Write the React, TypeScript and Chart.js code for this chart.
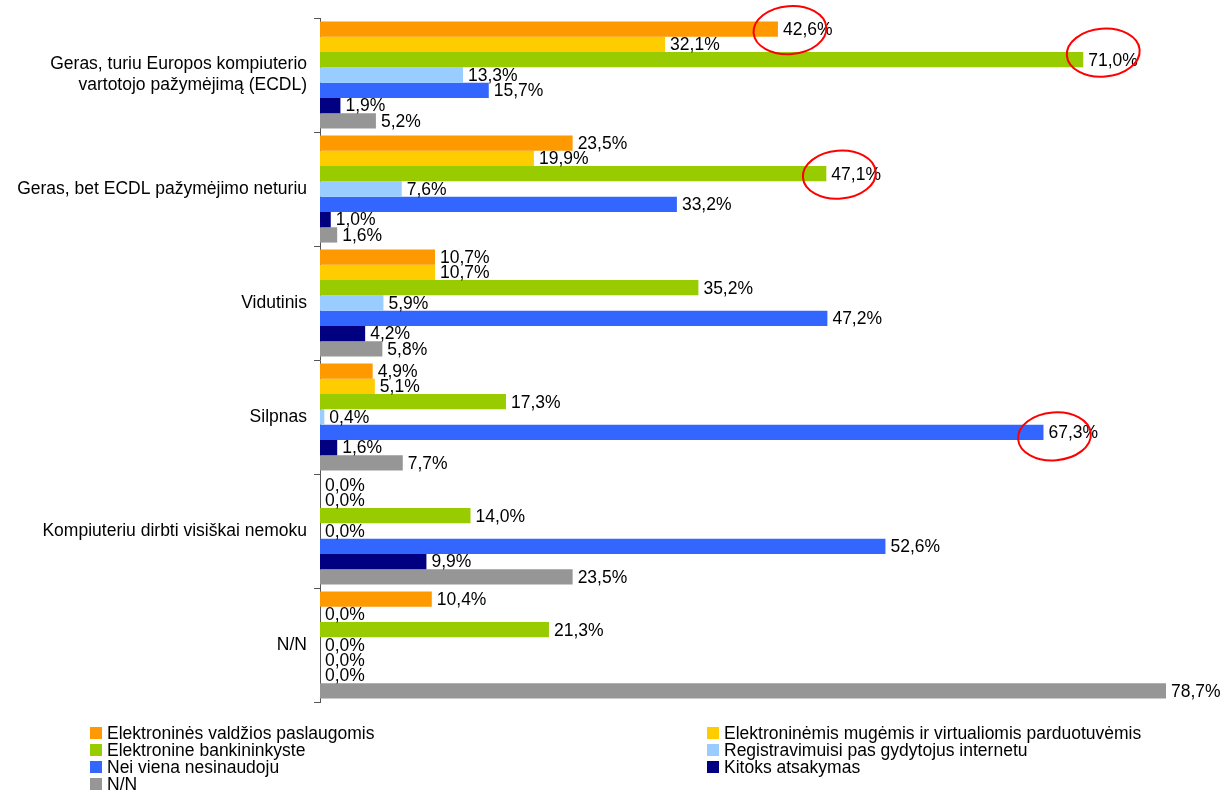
import React, { useEffect, useRef } from "react";
import { Chart, registerables } from "chart.js";

Chart.register(...registerables);

const categories: (string | string[])[] = [
  ["Geras, turiu Europos kompiuterio", "vartotojo pažymėjimą (ECDL)"],
  "Geras, bet ECDL pažymėjimo neturiu",
  "Vidutinis",
  "Silpnas",
  "Kompiuteriu dirbti visiškai nemoku",
  "N/N",
];

const seriesNames = [
  "Elektroninės valdžios paslaugomis",
  "Elektroninėmis mugėmis ir virtualiomis parduotuvėmis",
  "Elektronine bankininkyste",
  "Registravimuisi pas gydytojus internetu",
  "Nei viena nesinaudoju",
  "Kitoks atsakymas",
  "N/N",
];

const valdzios = [42.6, 23.5, 10.7, 4.9, 0.0, 10.4];
const muges = [32.1, 19.9, 10.7, 5.1, 0.0, 0.0];
const bankininkyste = [71.0, 47.1, 35.2, 17.3, 14.0, 21.3];
const gydytojai = [13.3, 7.6, 5.9, 0.4, 0.0, 0.0];
const neiViena = [15.7, 33.2, 47.2, 67.3, 52.6, 0.0];
const kitoks = [1.9, 1.0, 4.2, 1.6, 9.9, 0.0];
const nn = [5.2, 1.6, 5.8, 7.7, 23.5, 78.7];

const seriesValues = [valdzios, muges, bankininkyste, gydytojai, neiViena, kitoks, nn];
const seriesColors = ["#FF9900", "#FFCC00", "#99CC00", "#99CCFF", "#3366FF", "#000080", "#969696"];

// highlighted labels: [dataset index, category index, dx, dy]
const highlights: [number, number, number, number][] = [
  [0, 0, 12, 1],
  [2, 0, 20, -7],
  [2, 1, 13, 1],
  [4, 3, 11, 4],
];

const FONT = '17.5px "Liberation Sans", Arial, sans-serif';

const labelsPlugin = {
  id: "valueLabels",
  afterDatasetsDraw(chart: any) {
    const ctx = chart.ctx;
    ctx.save();
    ctx.font = FONT;
    ctx.fillStyle = "#000";
    ctx.textAlign = "left";
    ctx.textBaseline = "middle";
    chart.data.datasets.forEach((ds: any, di: number) => {
      const meta = chart.getDatasetMeta(di);
      meta.data.forEach((bar: any, i: number) => {
        const v = ds.data[i] as number;
        const txt = v.toFixed(1).replace(".", ",") + "%";
        ctx.fillText(txt, bar.x + 5, bar.y + 1);
      });
    });
    // red ellipses
    ctx.strokeStyle = "#FF0000";
    ctx.lineWidth = 2;
    highlights.forEach(([di, i, dx, dy]) => {
      const bar: any = chart.getDatasetMeta(di).data[i];
      ctx.beginPath();
      ctx.ellipse(bar.x + dx, bar.y + dy, 36.5, 24, -0.08, 0, Math.PI * 2);
      ctx.stroke();
    });
    ctx.restore();
  },
};

const legendPlugin = {
  id: "customLegend",
  afterDraw(chart: any) {
    const ctx = chart.ctx;
    ctx.save();
    ctx.font = FONT;
    ctx.textAlign = "left";
    ctx.textBaseline = "middle";
    const colX = [90, 707];
    const top = 727;
    const step = 17;
    chart.data.datasets.forEach((ds: any, di: number) => {
      const col = di % 2;
      const row = Math.floor(di / 2);
      const x = colX[col];
      const y = top + row * step;
      ctx.fillStyle = ds.backgroundColor;
      ctx.fillRect(x, y, 12, 12);
      ctx.fillStyle = "#000";
      ctx.fillText(ds.label, x + 17, y + 7);
    });
    ctx.restore();
  },
};

export default function App() {
  const ref = useRef<HTMLCanvasElement>(null);
  useEffect(() => {
    document.body.style.margin = "0";
    const canvas = ref.current!;
    const chart = new Chart(canvas, {
      type: "bar",
      data: {
        labels: categories,
        datasets: seriesNames.map((name, i) => ({
          label: name,
          data: seriesValues[i],
          backgroundColor: seriesColors[i],
          borderWidth: 0,
          categoryPercentage: 0.94,
          barPercentage: 1.0,
        })),
      },
      options: {
        indexAxis: "y",
        animation: false,
        responsive: false,
        maintainAspectRatio: false,
        layout: { padding: { top: 18, right: 46, bottom: 92, left: 0 } },
        plugins: {
          legend: { display: false },
          tooltip: { enabled: false },
        },
        scales: {
          x: { display: false, min: 0, max: 80 },
          y: {
            afterFit(scale: any) {
              scale.width = 320;
            },
            grid: {
              offset: true,
              drawOnChartArea: false,
              drawTicks: true,
              tickLength: 6,
              color: "#555",
            },
            border: { color: "#555", width: 1 },
            ticks: {
              color: "#000",
              padding: 7,
              font: { family: '"Liberation Sans", Arial, sans-serif', size: 17.5 },
            },
          },
        },
      },
      plugins: [labelsPlugin, legendPlugin],
    });
    return () => chart.destroy();
  }, []);
  return (
    <canvas ref={ref} width={1226} height={794} style={{ display: "block", width: 1226, height: 794 }} />
  );
}
